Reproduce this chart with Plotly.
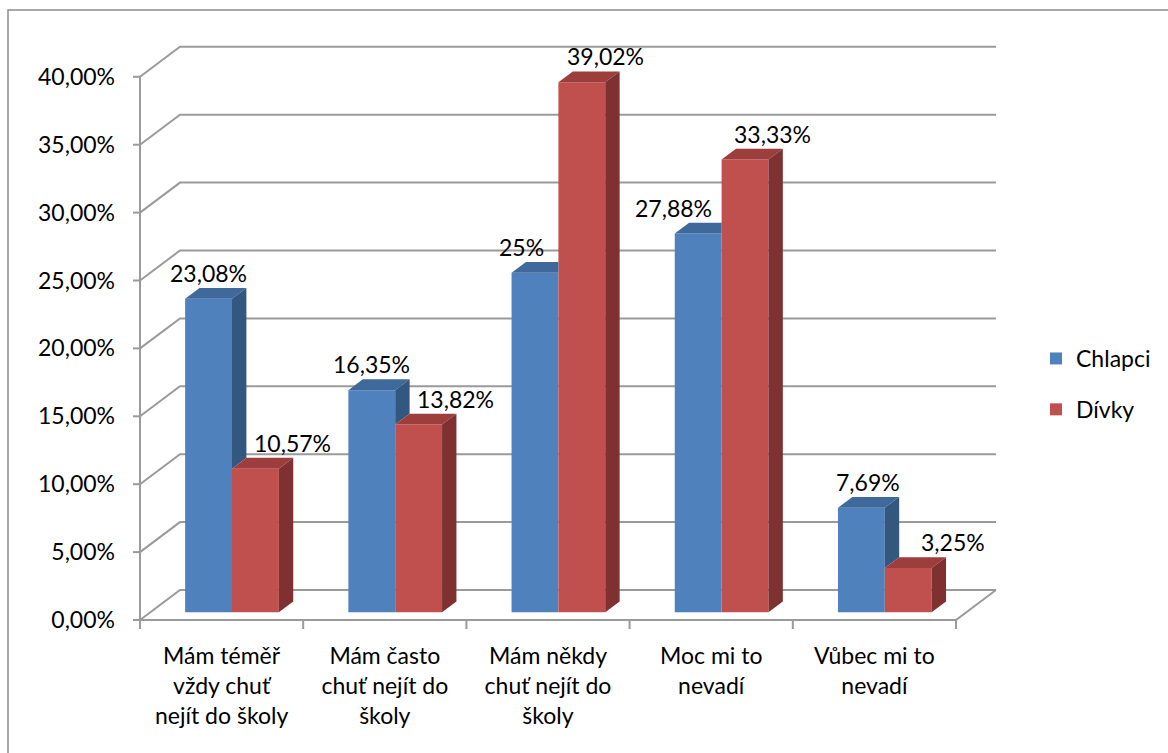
import plotly.graph_objects as go

# ---------------- data ----------------
categories = [
    "Mám téměř<br>vždy chuť<br>nejít do školy",
    "Mám často<br>chuť nejít do<br>školy",
    "Mám někdy<br>chuť nejít do<br>školy",
    "Moc mi to<br>nevadí",
    "Vůbec mi to<br>nevadí",
]
series_names = ["Chlapci", "Dívky"]
chlapci = [23.08, 16.35, 25.0, 27.88, 7.69]
divky = [10.57, 13.82, 39.02, 33.33, 3.25]
chlapci_labels = ["23,08%", "16,35%", "25%", "27,88%", "7,69%"]
divky_labels = ["10,57%", "13,82%", "39,02%", "33,33%", "3,25%"]
y_ticks = [0, 5, 10, 15, 20, 25, 30, 35, 40]
y_tick_labels = ["0,00%", "5,00%", "10,00%", "15,00%", "20,00%",
                 "25,00%", "30,00%", "35,00%", "40,00%"]

# ---------------- layout geometry (pixels) ----------------
W_PX, H_PX = 1168, 753
X0PX, Y0PX = 140, 620          # pixel of x=0 / y=0 on the front plane
UX, UY = 163.2, 13.58          # pixels per category / per 1 %
L, R, T, B = 128, 1004, 36, 634  # plot area
xr = [(L - X0PX) / UX, (R - X0PX) / UX]
yr = [(Y0PX - B) / UY, (Y0PX - T) / UY]

DX, DY = 40 / UX, 30 / UY      # full depth of the back wall
F0, F1 = 0.26, 0.62            # bar front / back depth fractions
fx0, fy0 = F0 * DX, F0 * DY
ddx, ddy = (F1 - F0) * DX, (F1 - F0) * DY
BW = 0.287                     # bar width in category units

colors = {
    "front": ["#4F81BD", "#C0504D"],
    "top": ["#3F699B", "#9E3E3C"],
    "side": ["#34577F", "#7E3130"],
}
label_shift = [[0, 0, -13, -25, 7], [37, 37, 24, 27, 45]]
GRID = "#9a9a9a"
FONT = "Lato, 'Noto Sans', sans-serif"

n = len(categories)
values = [chlapci, divky]
labels = [chlapci_labels, divky_labels]

fig = go.Figure()

# front faces (bars)
xpos = []
for s in range(2):
    xs = [i + 0.5 + fx0 + (s - 0.5) * BW for i in range(n)]
    xpos.append(xs)
    fig.add_trace(go.Bar(
        x=xs, y=values[s], base=[fy0] * n, width=BW,
        name=series_names[s], legendgroup=series_names[s],
        marker=dict(color=colors["front"][s], line=dict(width=0)),
        hoverinfo="skip",
    ))

# top and side faces computed from data
for i in range(n):
    for s in range(2):
        v = values[s][i]
        other = values[1 - s][i]
        xl = xpos[s][i] - BW / 2
        xrr = xpos[s][i] + BW / 2
        top = fy0 + v
        # top face
        if s == 0 and other >= v:
            tx = [xl, xrr, xrr, xl + ddx, xl]
            ty = [top, top, top + ddy, top + ddy, top]
        else:
            tx = [xl, xrr, xrr + ddx, xl + ddx, xl]
            ty = [top, top, top + ddy, top + ddy, top]
        fig.add_trace(go.Scatter(x=tx, y=ty, fill="toself", mode="lines",
                                 line=dict(width=0), fillcolor=colors["top"][s],
                                 showlegend=False, hoverinfo="skip"))
        # side face
        if s == 0:
            if other >= v:
                continue
            low = fy0 + other
        else:
            low = fy0
        sx = [xrr, xrr + ddx, xrr + ddx, xrr, xrr]
        sy = [low, low + ddy, top + ddy, top, low]
        fig.add_trace(go.Scatter(x=sx, y=sy, fill="toself", mode="lines",
                                 line=dict(width=0), fillcolor=colors["side"][s],
                                 showlegend=False, hoverinfo="skip"))

shapes = []
# back wall grid lines
for v in y_ticks:
    shapes.append(dict(type="path", layer="below", xref="x", yref="y",
                       path=f"M0,{v} L{DX},{v + DY} L{n + DX},{v + DY}",
                       line=dict(color=GRID, width=2)))
    # y tick marks
    shapes.append(dict(type="line", layer="below", xref="x", yref="y",
                       x0=-7 / UX, x1=0, y0=v, y1=v,
                       line=dict(color=GRID, width=2)))
# front vertical axis
shapes.append(dict(type="line", layer="below", xref="x", yref="y",
                   x0=0, x1=0, y0=0, y1=y_ticks[-1],
                   line=dict(color=GRID, width=2)))
# floor front and right edges
shapes.append(dict(type="path", layer="below", xref="x", yref="y",
                   path=f"M0,0 L{n},0 L{n + DX},{DY}",
                   line=dict(color=GRID, width=2)))
# category boundary ticks
for i in range(n + 1):
    shapes.append(dict(type="line", layer="below", xref="x", yref="y",
                       x0=i, x1=i, y0=0, y1=-9 / UY,
                       line=dict(color=GRID, width=2)))
# outer chart border
pw, ph = R - L, B - T
shapes.append(dict(type="rect", xref="paper", yref="paper",
                   x0=(8 - L) / pw, x1=(W_PX + 20 - L) / pw,
                   y0=(B - (H_PX + 20)) / ph, y1=(B - 10) / ph,
                   line=dict(color="#8c8c8c", width=1.5)))

annotations = []
for s in range(2):
    for i in range(n):
        annotations.append(dict(
            x=xpos[s][i], y=fy0 + values[s][i], xref="x", yref="y",
            text=labels[s][i], showarrow=False, xanchor="center",
            yanchor="middle", yshift=26, xshift=label_shift[s][i],
            font=dict(family=FONT, size=23, color="#000000")))

fig.update_layout(
    width=W_PX, height=H_PX,
    margin=dict(l=L, r=W_PX - R, t=T, b=H_PX - B),
    paper_bgcolor="white", plot_bgcolor="white",
    barmode="overlay",
    shapes=shapes, annotations=annotations,
    font=dict(family=FONT, size=23, color="#000000"),
    showlegend=True,
    legend=dict(xref="container", yref="container", x=1036 / W_PX, y=1 - 384 / H_PX,
                xanchor="left", yanchor="middle", traceorder="grouped",
                tracegroupgap=18, font=dict(family=FONT, size=23),
                bgcolor="rgba(0,0,0,0)", itemwidth=30),
    xaxis=dict(range=xr, showgrid=False, zeroline=False, showline=False,
               tickvals=[i + 0.5 for i in range(n)], ticktext=categories,
               ticks="", ticklabelstandoff=6, automargin=False,
               tickfont=dict(family=FONT, size=23)),
    yaxis=dict(range=yr, showgrid=False, zeroline=False, showline=False,
               tickvals=y_ticks, ticktext=y_tick_labels, ticks="",
               ticklabelstandoff=12, automargin=False,
               tickfont=dict(family=FONT, size=23)),
)

fig.write_html("out.html")
